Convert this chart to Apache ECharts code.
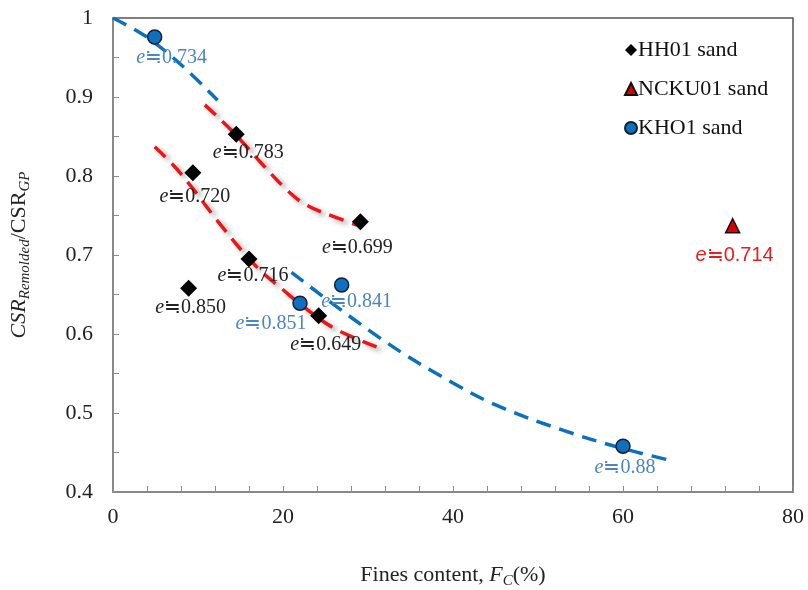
<!DOCTYPE html>
<html>
<head>
<meta charset="utf-8">
<script src="https://cdn.jsdelivr.net/npm/echarts@6/dist/echarts.min.js"></script>
<style>html,body{margin:0;padding:0;background:#fff}#c{width:808px;height:590px}</style>
</head>
<body>
<div id="c"></div>
<script>
// ---- data ----
const hhX = [14.5, 9.4, 29.1, 16.0, 8.9, 24.2];
const hhY = [0.853, 0.804, 0.742, 0.695, 0.658, 0.623];
const hhE = ['0.783', '0.720', '0.699', '0.716', '0.850', '0.649'];

const nckuX = [72.9];
const nckuY = [0.737];
const nckuE = ['0.714'];

const khX = [4.9, 26.9, 22.0, 60.0];
const khY = [0.976, 0.662, 0.639, 0.458];
const khE = ['0.734', '0.841', '0.851', '0.88'];

const blueCurveAX = [0, 2.6, 5, 8.7, 12.3];
const blueCurveAY = [1.0, 0.985, 0.968, 0.934, 0.896];
const blueCurveBX = [21, 31.8, 40, 45.5, 53, 60, 66];
const blueCurveBY = [0.678, 0.592, 0.538, 0.508, 0.478, 0.455, 0.439];
const redCurveAX = [10.8, 14.1, 17.3, 20.5, 22.8, 25.9, 28.7];
const redCurveAY = [0.890, 0.856, 0.818, 0.782, 0.763, 0.749, 0.738];
const redCurveBX = [4.9, 7.9, 12.9, 16.9, 20, 23.2, 26.4, 31.4];
const redCurveBY = [0.837, 0.804, 0.735, 0.685, 0.656, 0.628, 0.605, 0.582];

const xTicks = [0, 20, 40, 60, 80];
const yTicks = [0.4, 0.5, 0.6, 0.7, 0.8, 0.9, 1];

// ---- layout (label offsets in px) ----
const hhOff = [[12, 19], [2, 24], [-3, 26], [4, 17], [2, 20], [7, 29]];
const nckuOff = [[2, 30]];
const khOff = [[17, 21], [15, 17], [-29, 21], [2, 22]];

const SERIF = '"Liberation Serif","Times New Roman",serif';

function pts(xs, ys) { return xs.map((x, i) => [x, ys[i]]); }
function labeled(xs, ys, es, offs) {
  return xs.map((x, i) => ({ value: [x, ys[i]], e: es[i], label: { offset: offs[i] } }));
}
function labelStyle(color, family, size) {
  return {
    show: true, position: 'inside',
    formatter: p => '{i|e}{n|\u2252' + p.data.e + '}',
    rich: {
      i: { fontStyle: 'italic', fontFamily: family, fontSize: size, color: color },
      n: { fontFamily: family, fontSize: size, color: color }
    }
  };
}
function curve(xs, ys, color, shadow) {
  return {
    type: 'line', data: pts(xs, ys), smooth: 0.4, symbol: 'none', silent: true, z: 1,
    lineStyle: Object.assign({ color: color, width: 3.5, type: [15, 9] },
      shadow ? { shadowColor: 'rgba(0,0,0,0.35)', shadowBlur: 5, shadowOffsetX: 4, shadowOffsetY: 3 } : {})
  };
}

const chart = echarts.init(document.getElementById('c'), null, { renderer: 'canvas' });
chart.setOption({
  animation: false,
  backgroundColor: '#fff',
  grid: { left: 113, right: 15, top: 18, bottom: 98, outerBoundsMode: 'none', containLabel: false,
    show: true, borderColor: '#555', borderWidth: 1.5, backgroundColor: 'transparent' },
  legend: {
    orient: 'vertical', left: 619, top: 33, itemWidth: 12, itemHeight: 12, itemGap: 15,
    textStyle: { fontFamily: SERIF, fontSize: 22, color: '#111', lineHeight: 24, padding: [0, 0, 0, -4] },
    data: ['HH01 sand', 'NCKU01 sand', 'KHO1 sand']
  },
  xAxis: {
    type: 'value', min: xTicks[0], max: xTicks[xTicks.length - 1], interval: 20,
    splitLine: { show: false },
    axisLine: { lineStyle: { color: '#8c8c8c', width: 1.5 } },
    axisTick: { inside: true, length: 6, lineStyle: { color: '#8c8c8c' } },
    minorTick: { show: true, splitNumber: 5, length: 6, lineStyle: { color: '#8c8c8c' } },
    axisLabel: { fontFamily: SERIF, fontSize: 22, color: '#222', margin: 14 },
    name: '{n|Fines content, }{i|F}{s|C}{n|(%)}', nameLocation: 'middle', nameGap: 70,
    nameTextStyle: {
      rich: {
        n: { fontFamily: SERIF, fontSize: 22, color: '#222' },
        i: { fontFamily: SERIF, fontSize: 22, color: '#222', fontStyle: 'italic' },
        s: { fontFamily: SERIF, fontSize: 15, color: '#222', fontStyle: 'italic', padding: [12, 0, 0, 0] }
      }
    }
  },
  yAxis: {
    type: 'value', min: yTicks[0], max: yTicks[yTicks.length - 1], interval: 0.1,
    splitLine: { show: false },
    axisLine: { lineStyle: { color: '#8c8c8c', width: 1.5 } },
    axisTick: { inside: true, length: 6, lineStyle: { color: '#8c8c8c' } },
    minorTick: { show: true, splitNumber: 2, length: 6, lineStyle: { color: '#8c8c8c' } },
    axisLabel: { fontFamily: SERIF, fontSize: 22, color: '#222', margin: 20 },
    name: '{i|CSR}{s|Remolded}{n|/CSR}{s|GP}', nameLocation: 'middle', nameGap: 80,
    nameTextStyle: {
      rich: {
        n: { fontFamily: SERIF, fontSize: 22, color: '#222' },
        i: { fontFamily: SERIF, fontSize: 22, color: '#222', fontStyle: 'italic' },
        s: { fontFamily: SERIF, fontSize: 15, color: '#222', fontStyle: 'italic', padding: [12, 0, 0, 0] }
      }
    }
  },
  series: [
    curve(blueCurveAX, blueCurveAY, '#0a70c0', false),
    curve(blueCurveBX, blueCurveBY, '#0a70c0', false),
    curve(redCurveAX, redCurveAY, '#f01414', true),
    curve(redCurveBX, redCurveBY, '#f01414', true),
    {
      name: 'HH01 sand', type: 'scatter', symbol: 'diamond', symbolSize: 17, z: 3,
      itemStyle: { color: '#000', opacity: 1 },
      label: labelStyle('#222', SERIF, 20),
      data: labeled(hhX, hhY, hhE, hhOff)
    },
    {
      name: 'NCKU01 sand', type: 'scatter', symbol: 'triangle', symbolSize: 14, z: 3,
      itemStyle: { color: '#e00000', borderColor: '#111', borderWidth: 1.5, opacity: 1 },
      label: labelStyle('#e81c1c', '"Liberation Sans",Arial,sans-serif', 20),
      data: labeled(nckuX, nckuY, nckuE, nckuOff)
    },
    {
      name: 'KHO1 sand', type: 'scatter', symbol: 'circle', symbolSize: 14, z: 3,
      itemStyle: { color: '#0f6fc0', borderColor: '#142030', borderWidth: 1.5, opacity: 1 },
      label: labelStyle('#4a86c0', SERIF, 20),
      data: labeled(khX, khY, khE, khOff)
    }
  ]
});
</script>
</body>
</html>
